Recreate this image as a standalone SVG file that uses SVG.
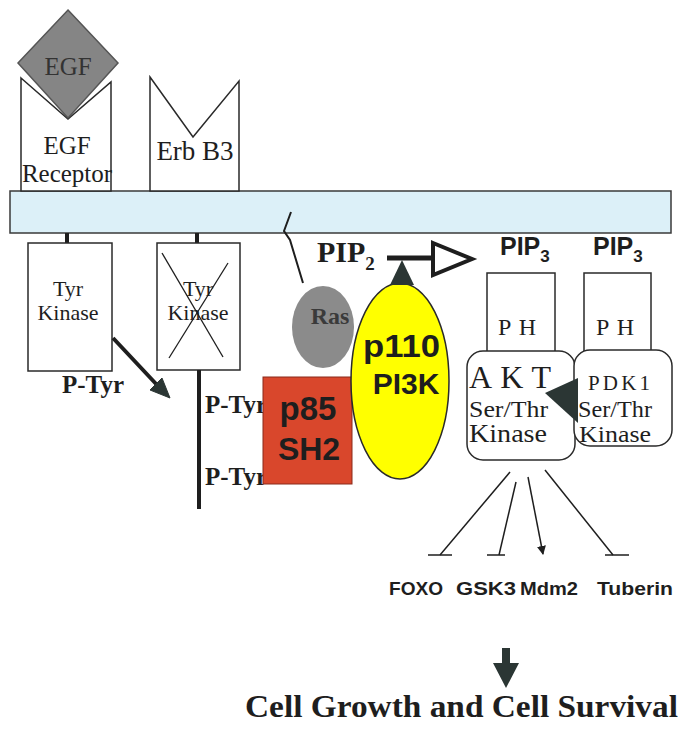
<svg xmlns="http://www.w3.org/2000/svg" width="678" height="736" viewBox="0 0 678 736">
<defs>
<style>
.ser{font-family:"Liberation Serif","Times New Roman",serif;fill:#1e1e1e}
.sb{font-family:"Liberation Serif","Times New Roman",serif;font-weight:bold;fill:#1e1e1e}
.sans{font-family:"Liberation Sans",Arial,sans-serif;font-weight:bold;fill:#1e1e1e}
.box{fill:#fff;stroke:#2a2a2a;stroke-width:1.5}
.ln{stroke:#1e1e1e;fill:none}
</style>
<marker id="ah" viewBox="0 0 10 10" refX="9" refY="5" markerWidth="9" markerHeight="9" markerUnits="userSpaceOnUse" orient="auto"><path d="M0,0 L10,5 L0,10 Z" fill="#1e1e1e"/></marker>
</defs>
<rect width="678" height="736" fill="#fff"/>

<g id="membrane">
<rect x="10" y="191" width="661" height="42" fill="#dcf0f8" stroke="#3a3a3a" stroke-width="1.5"/>
</g>

<g id="egf-receptor">
<path d="M21,78 L68,119 L111,82 L111,191 L21,191 Z" class="box"/>
<text x="67" y="154" class="ser" font-size="25" text-anchor="middle">EGF</text>
<text x="67" y="182" class="ser" font-size="25" text-anchor="middle">Receptor</text>
</g>

<g id="egf">
<path d="M68,10 L118,63 L68,118 L18,63 Z" fill="#858585" stroke="#555" stroke-width="1.5"/>
<text x="68" y="75" class="ser" font-size="25" text-anchor="middle" style="fill:#333">EGF</text>
</g>

<g id="erbb3">
<path d="M150,77 L193,137 L239,81 L239,191 L150,191 Z" class="box"/>
<text x="195" y="160" class="ser" font-size="27" text-anchor="middle">Erb B3</text>
</g>

<g id="tyr-kinase-1">
<rect x="65" y="233" width="4" height="10" fill="#1e1e1e"/>
<rect x="28" y="243" width="84" height="128" class="box"/>
<text x="68" y="296" class="ser" font-size="22" text-anchor="middle">Tyr</text>
<text x="68" y="320" class="ser" font-size="22" text-anchor="middle">Kinase</text>
</g>

<g id="tyr-kinase-2">
<rect x="195" y="233" width="4" height="10" fill="#1e1e1e"/>
<rect x="157" y="243" width="83" height="127" class="box"/>
<text x="198" y="296" class="ser" font-size="22" text-anchor="middle">Tyr</text>
<text x="198" y="320" class="ser" font-size="22" text-anchor="middle">Kinase</text>
<line x1="162" y1="253" x2="223" y2="357" stroke="#1e1e1e" stroke-width="1.3"/>
<line x1="228" y1="263" x2="169" y2="358" stroke="#1e1e1e" stroke-width="1.3"/>
<rect x="197" y="370" width="4" height="139" fill="#1e1e1e"/>
</g>

<g id="ptyr-labels">
<text x="62" y="393" class="sb" font-size="25">P-Tyr</text>
<text x="205" y="413" class="sb" font-size="25">P-Tyr</text>
<text x="205" y="485" class="sb" font-size="25">P-Tyr</text>
</g>

<g id="ras">
<path d="M291,212 L284,231 L290,240 L303,283" class="ln" stroke-width="2"/>
<ellipse cx="323" cy="327" rx="31" ry="41" fill="#8b8b8b"/>
<text x="330" y="324" class="sb" font-size="24" text-anchor="middle" style="fill:#3a3a3a">Ras</text>
</g>

<g id="p85">
<rect x="263" y="377" width="89" height="107" fill="#d9472c" stroke="#8a2a1a" stroke-width="1"/>
<text x="308" y="420" class="sans" font-size="33" text-anchor="middle">p85</text>
<text x="309" y="460" class="sans" font-size="32" text-anchor="middle">SH2</text>
</g>

<g id="p110">
<ellipse cx="400" cy="381" rx="49" ry="98" fill="#ffff00" stroke="#2a2a2a" stroke-width="1.5"/>
<text x="363" y="357" class="sans" font-size="31" textLength="77" lengthAdjust="spacingAndGlyphs">p110</text>
<text x="406" y="394" class="sans" font-size="30" text-anchor="middle">PI3K</text>
</g>

<g id="pip2">
<text x="317" y="262" class="sb" font-size="30">PIP<tspan font-size="19" dy="8">2</tspan></text>
</g>

<g id="pip3-akt">
<text x="500" y="255" class="sans" font-size="25">PIP<tspan font-size="17" dy="7">3</tspan></text>
</g>
<g id="pip3-pdk1">
<text x="593" y="255" class="sans" font-size="25">PIP<tspan font-size="17" dy="7">3</tspan></text>
</g>

<g id="ph-akt">
<rect x="487" y="273" width="68" height="90" class="box"/>
<text x="498" y="335" class="ser" font-size="24" textLength="38" lengthAdjust="spacing">PH</text>
</g>
<g id="ph-pdk1">
<rect x="584" y="273" width="67" height="90" class="box"/>
<text x="596" y="335" class="ser" font-size="24" textLength="38" lengthAdjust="spacing">PH</text>
</g>

<g id="akt">
<rect x="467" y="351" width="108" height="109" rx="16" class="box"/>
<text x="469" y="388" class="ser" font-size="32" textLength="82" lengthAdjust="spacing">AKT</text>
<text x="469" y="417" class="ser" font-size="24" textLength="79" lengthAdjust="spacingAndGlyphs">Ser/Thr</text>
<text x="469" y="442" class="ser" font-size="25" textLength="78" lengthAdjust="spacingAndGlyphs">Kinase</text>
</g>

<g id="pdk1">
<rect x="574" y="350" width="98" height="96" rx="16" class="box"/>
<text x="588" y="390" class="ser" font-size="21" textLength="62" lengthAdjust="spacing">PDK1</text>
<text x="578" y="417" class="ser" font-size="23" textLength="74" lengthAdjust="spacingAndGlyphs">Ser/Thr</text>
<text x="579" y="442" class="ser" font-size="24" textLength="72" lengthAdjust="spacingAndGlyphs">Kinase</text>
</g>

<g id="targets">
<text x="389" y="595" class="sans" font-size="19" textLength="54" lengthAdjust="spacingAndGlyphs">FOXO</text>
<text x="456" y="595" class="sans" font-size="19" textLength="60" lengthAdjust="spacingAndGlyphs">GSK3</text>
<text x="520" y="595" class="sans" font-size="19" textLength="58" lengthAdjust="spacingAndGlyphs">Mdm2</text>
<text x="597" y="595" class="sans" font-size="19" textLength="76" lengthAdjust="spacingAndGlyphs">Tuberin</text>
</g>

<g id="outcome">
<text x="245" y="717" class="sb" font-size="31" textLength="433" lengthAdjust="spacingAndGlyphs">Cell Growth and Cell Survival</text>
</g>

<g id="connectors">
<line x1="113" y1="338" x2="158" y2="386" stroke="#1e1e1e" stroke-width="4"/>
<path d="M170,398 L150,390 L162,378 Z" fill="#2b3634" stroke="#2b3634" stroke-width="1"/>
<line x1="387" y1="258" x2="434" y2="258" stroke="#1e1e1e" stroke-width="5"/>
<path d="M433,243 L472,259 L433,275 Z" fill="#fff" stroke="#1e1e1e" stroke-width="4" stroke-linejoin="miter"/>
<path d="M402,260 L390,285 L414,285 Z" fill="#2b3634"/>
<path d="M545,393 L578,378 L578,423 Z" fill="#2b3634"/>
<line x1="510" y1="472" x2="440" y2="555" stroke="#1e1e1e" stroke-width="1.5"/>
<line x1="428" y1="555" x2="452" y2="555" stroke="#1e1e1e" stroke-width="1.5"/>
<line x1="516" y1="482" x2="499" y2="555" stroke="#1e1e1e" stroke-width="1.5"/>
<line x1="487" y1="555" x2="505" y2="555" stroke="#1e1e1e" stroke-width="1.5"/>
<line x1="528" y1="477" x2="543" y2="554" stroke="#1e1e1e" stroke-width="1.5" marker-end="url(#ah)"/>
<line x1="545" y1="470" x2="613" y2="555" stroke="#1e1e1e" stroke-width="1.5"/>
<line x1="605" y1="555" x2="629" y2="555" stroke="#1e1e1e" stroke-width="1.5"/>
<path d="M502,648 L510,648 L510,663 L519,663 L506,688 L493,663 L502,663 Z" fill="#2b3634"/>
</g>
</svg>
